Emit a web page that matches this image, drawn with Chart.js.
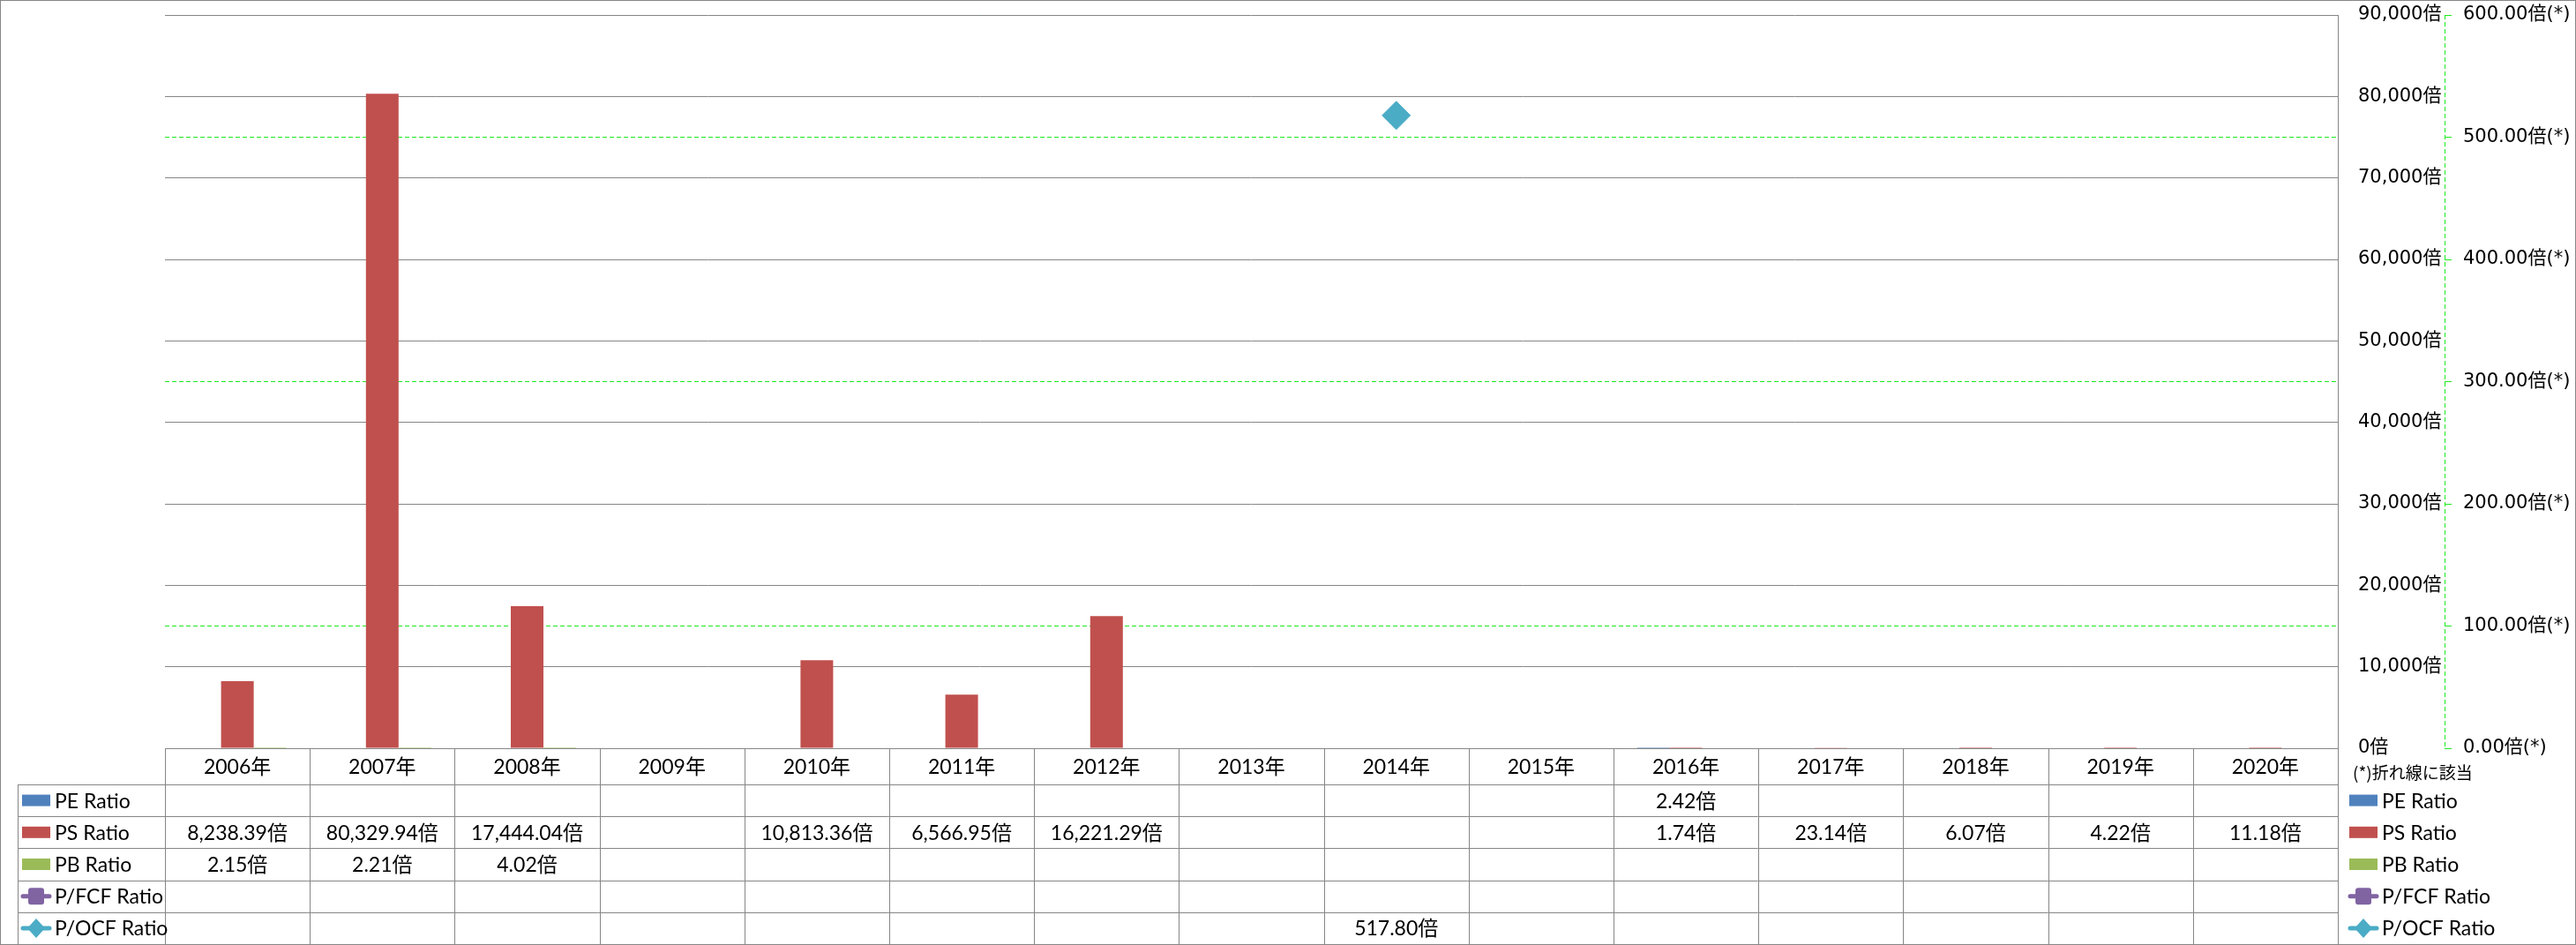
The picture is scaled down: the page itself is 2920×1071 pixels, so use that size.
<!DOCTYPE html>
<html><head><meta charset="utf-8">
<script src="https://cdn.jsdelivr.net/npm/chart.js@4.4.1/dist/chart.umd.min.js"></script>
<style>html,body{margin:0;padding:0;background:#fff;}canvas{display:block}</style>
</head><body>
<canvas id="c" width="2920" height="1071" style="width:2920px;height:1071px"></canvas>
<script>
// ---- data ----
const categories = ['2006年','2007年','2008年','2009年','2010年','2011年','2012年','2013年','2014年','2015年','2016年','2017年','2018年','2019年','2020年'];
const peRatio   = [null,null,null,null,null,null,null,null,null,null,2.42,null,null,null,null];
const psRatio   = [8238.39,80329.94,17444.04,null,10813.36,6566.95,16221.29,null,null,null,1.74,23.14,6.07,4.22,11.18];
const pbRatio   = [2.15,2.21,4.02,null,null,null,null,null,null,null,null,null,null,null,null];
const pfcfRatio = [null,null,null,null,null,null,null,null,null,null,null,null,null,null,null];
const pocfRatio = [null,null,null,null,null,null,null,null,517.80,null,null,null,null,null,null];
const leftAxisMax = 90000, leftAxisStep = 10000;
const rightAxisMax = 600, rightAxisStep = 100;
const lineNote = '(*)折れ線に該当';

const GRID = '#868686';
const LIME = '#1ee81e';
const TICK_FONT = '"DejaVu Sans", "Noto Sans CJK JP", sans-serif';
const TABLE_FONT = 'Lato, "Noto Sans CJK JP", sans-serif';

function fmtCell(v){
  if (v === null || v === undefined) return '';
  return v.toLocaleString('en-US',{minimumFractionDigits:2,maximumFractionDigits:2}) + '倍';
}

function drawKey(ctx, ds, x0, x1, cy){
  ctx.save();
  if (ds.type === 'line') {
    ctx.strokeStyle = ds.borderColor; ctx.lineWidth = 5; ctx.lineCap='round';
    ctx.beginPath(); ctx.moveTo(x0+1, cy); ctx.lineTo(x1-1, cy); ctx.stroke();
    ctx.fillStyle = ds.backgroundColor;
    const cx = (x0+x1)/2;
    if (ds.pointStyle === 'rectRot') {
      ctx.beginPath(); ctx.moveTo(cx, cy-11); ctx.lineTo(cx+10, cy); ctx.lineTo(cx, cy+11); ctx.lineTo(cx-10, cy); ctx.closePath(); ctx.fill();
    } else {
      ctx.beginPath(); ctx.roundRect(cx-9, cy-9.5, 18, 19, 3); ctx.fill();
    }
  } else {
    ctx.fillStyle = ds.backgroundColor;
    ctx.fillRect(x0, cy-6.5, x1-x0, 13);
  }
  ctx.restore();
}

const tablePlugin = {
  id: 'dataTable',
  beforeDraw(chart){
    const ctx = chart.ctx;
    ctx.save(); ctx.fillStyle = '#fff'; ctx.fillRect(0,0,chart.width,chart.height); ctx.restore();
  },
  afterDatasetsDraw(chart){
    const ctx = chart.ctx, ca = chart.chartArea, y2 = chart.scales.y2;
    const ax = Math.round(y2.left) + 0.5;
    ctx.save(); ctx.strokeStyle = LIME; ctx.lineWidth = 1; ctx.setLineDash([5,3]);
    ctx.beginPath(); ctx.moveTo(ax, ca.top); ctx.lineTo(ax, ca.bottom); ctx.stroke();
    ctx.restore();
  },
  afterDraw(chart){
    const ctx = chart.ctx, ca = chart.chartArea, xs = chart.scales.x;
    const n = categories.length;
    const cw = (xs.right - xs.left) / n;
    const headTop = ca.bottom, headBot = 889, tabBot = 1070, labelLeft = 20;
    const ds = chart.data.datasets;
    const rowH = (tabBot - headBot) / ds.length;
    const px = v => Math.round(v) + 0.5;
    ctx.save();
    ctx.strokeStyle = GRID; ctx.lineWidth = 1;
    ctx.beginPath();
    ctx.moveTo(xs.left, px(headTop)); ctx.lineTo(xs.right, px(headTop));
    for (let r = 0; r <= ds.length; r++) {
      const y = px(headBot + r*rowH);
      ctx.moveTo(labelLeft, y); ctx.lineTo(xs.right, y);
    }
    for (let i = 0; i <= n; i++) {
      const x = px(xs.left + i*cw);
      ctx.moveTo(x, headTop); ctx.lineTo(x, tabBot);
    }
    ctx.moveTo(px(labelLeft), headBot); ctx.lineTo(px(labelLeft), tabBot);
    ctx.stroke();
    ctx.strokeRect(0.5, 0.5, chart.width-1, chart.height-1);

    ctx.fillStyle = '#000';
    ctx.font = '23px ' + TABLE_FONT;
    ctx.textBaseline = 'middle';
    ctx.textAlign = 'center';
    for (let i = 0; i < n; i++) {
      const cx = xs.getPixelForValue(i);
      ctx.fillText(categories[i], cx, (headTop+headBot)/2 + 1);
      for (let r = 0; r < ds.length; r++) {
        const t = fmtCell(ds[r].data[i]);
        if (t) ctx.fillText(t, cx, headBot + (r+0.5)*rowH + 1);
      }
    }
    ctx.textAlign = 'left';
    for (let r = 0; r < ds.length; r++) {
      const cy = headBot + (r+0.5)*rowH;
      drawKey(ctx, ds[r], 25, 57, cy);
      ctx.fillStyle = '#000';
      ctx.fillText(ds[r].label, 62, cy + 1);
      drawKey(ctx, ds[r], 2663, 2695, cy);
      ctx.fillStyle = '#000';
      ctx.fillText(ds[r].label, 2700, cy + 1);
    }
    ctx.font = '19px "Noto Sans CJK JP", sans-serif';
    ctx.fillText(lineNote, 2667, 876);
    ctx.restore();
  }
};

new Chart(document.getElementById('c'), {
  data: {
    labels: categories,
    datasets: [
      {type:'bar', label:'PE Ratio', data: peRatio, backgroundColor:'#4F81BD', yAxisID:'y'},
      {type:'bar', label:'PS Ratio', data: psRatio, backgroundColor:'#C0504D', yAxisID:'y'},
      {type:'bar', label:'PB Ratio', data: pbRatio, backgroundColor:'#9BBB59', yAxisID:'y'},
      {type:'line', label:'P/FCF Ratio', data: pfcfRatio, borderColor:'#8064A2', backgroundColor:'#8064A2', pointStyle:'rect', pointRadius:12, borderWidth:4, yAxisID:'y2'},
      {type:'line', label:'P/OCF Ratio', data: pocfRatio, borderColor:'#4BACC6', backgroundColor:'#4BACC6', pointStyle:'rectRot', pointRadius:16, pointBorderWidth:1, borderWidth:4, yAxisID:'y2'}
    ]
  },
  options: {
    responsive: false,
    animation: false,
    events: [],
    layout: {padding: {left:187, top:16, bottom:223, right:0}},
    datasets: {bar: {barPercentage:1, categoryPercentage:0.676}},
    plugins: {legend:{display:false}, tooltip:{enabled:false}},
    scales: {
      x: {type:'category', display:false, offset:true},
      y: {
        type:'linear', position:'right', weight:1, min:0, max:leftAxisMax,
        ticks:{stepSize:leftAxisStep, padding:23, color:'#000', font:{family:TICK_FONT, size:21},
          callback: v => Number(v).toLocaleString('en-US') + '倍'},
        grid:{color:GRID, lineWidth:1, drawTicks:false},
        border:{display:true, color:GRID, width:1},
        afterFit(s){ s.width = 121; s.paddingTop = 0; s.paddingBottom = 0; }
      },
      y2: {
        type:'linear', position:'right', weight:2, min:0, max:rightAxisMax,
        ticks:{stepSize:rightAxisStep, padding:13, color:'#000', font:{family:TICK_FONT, size:21},
          callback: v => Number(v).toFixed(2) + '倍(*)'},
        grid:{color:LIME, lineWidth:1, drawTicks:true, tickLength:8, tickColor:LIME, z:-2},
        border:{display:false, dash:[5,3]},
        afterFit(s){ s.width = 149; s.paddingTop = 0; s.paddingBottom = 0; }
      }
    }
  },
  plugins: [tablePlugin]
});
</script>
</body></html>
